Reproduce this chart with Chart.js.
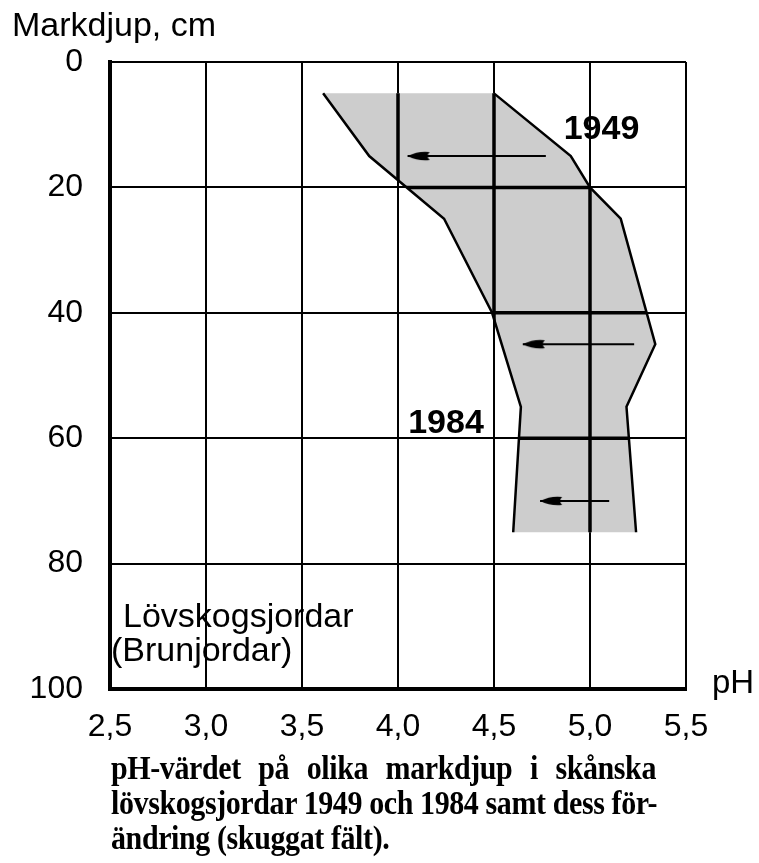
<!DOCTYPE html>
<html>
<head>
<meta charset="utf-8">
<script src="https://cdn.jsdelivr.net/npm/chart.js@4.4.0/dist/chart.umd.min.js"></script>
<style>
  html, body { margin: 0; padding: 0; background: #fff; }
  #wrap { position: relative; width: 759px; height: 863px; overflow: hidden; }
  #caption { position: absolute; left: 111px; top: 750px; width: 545px; font: bold 30px 'Liberation Serif', 'Times New Roman', serif; letter-spacing: -0.4px; line-height: 31px; color: #000; transform: scale(1, 1.12); transform-origin: 0 0; }
  #caption div { white-space: nowrap; }
  #caption .j { text-align: justify; text-align-last: justify; }
</style>
</head>
<body>
<div id="wrap">
  <canvas id="chart" width="759" height="863"></canvas>
  <div id="caption">
    <div class="j">pH-värdet på olika markdjup i skånska</div>
    <div class="j">lövskogsjordar 1949 och 1984 samt dess för-</div>
    <div>ändring (skuggat fält).</div>
  </div>
</div>
<script>
// pH profile 1949 (right edge of the shaded field)
const depth1949 = [5, 15, 20, 25, 45, 55, 75];
const ph1949 = [4.5, 4.9, 5.0, 5.16, 5.34, 5.19, 5.24];

// pH profile 1984 (left edge)
const depth1984 = [5, 15, 25, 40, 55, 75];
const ph1984 = [3.61, 3.85, 4.24, 4.49, 4.64, 4.6];

// change arrows
const arrowDepth = [15, 45, 70];
const arrowFrom = [4.77, 5.23, 5.1];
const arrowTo = [4.05, 4.65, 4.74];

const phTicks = [2.5, 3.0, 3.5, 4.0, 4.5, 5.0, 5.5];
const depthTicks = [0, 20, 40, 60, 80, 100];

const yearLabels = ['1949', '1984'];
const yearLabelPh = [5.06, 4.25];
const yearLabelDepth = [10.8, 57.6];

const SANS = "'Liberation Sans', Arial, Helvetica, sans-serif";

function makeHead() {
    const c = document.createElement('canvas');
    c.width = 50;
    c.height = 12;
    const g = c.getContext('2d');
    g.fillStyle = '#000';
    g.beginPath();
    g.moveTo(25, 6);
    g.quadraticCurveTo(36, 0.5, 47, 2);
    g.quadraticCurveTo(43, 6, 47, 10);
    g.quadraticCurveTo(36, 11.5, 25, 6);
    g.closePath();
    g.fill();
    return c;
}

const toPoints = (xs, ys) => xs.map((v, i) => ({ x: v, y: ys[i] }));

const edge1984 = toPoints(ph1984, depth1984);
const edge1949 = toPoints(ph1949, depth1949);
const field = edge1984.concat(edge1949.slice().reverse());

const head = makeHead();
const arrowSets = arrowDepth.map((d, i) => ({
    data: [{ x: arrowTo[i], y: d }, { x: arrowFrom[i], y: d }],
    borderColor: '#000',
    borderWidth: 2,
    pointStyle: [head, 'circle'],
    pointRadius: [4, 0],
    fill: false,
    order: 1
}));

// grid lines look heavier where they cross the shaded field
const heavyGrid = {
    id: 'heavyGrid',
    afterDraw(chart) {
        const { ctx, chartArea: a, scales: { x, y } } = chart;
        ctx.save();
        ctx.beginPath();
        field.forEach((p, i) => {
            const px = x.getPixelForValue(p.x), py = y.getPixelForValue(p.y);
            if (i === 0) ctx.moveTo(px, py); else ctx.lineTo(px, py);
        });
        ctx.closePath();
        ctx.clip();
        ctx.strokeStyle = '#000';
        ctx.lineWidth = 3.5;
        ctx.beginPath();
        phTicks.forEach(v => {
            const px = x.getPixelForValue(v);
            ctx.moveTo(px, a.top);
            ctx.lineTo(px, a.bottom);
        });
        depthTicks.forEach(v => {
            const py = y.getPixelForValue(v);
            ctx.moveTo(a.left, py);
            ctx.lineTo(a.right, py);
        });
        ctx.stroke();
        ctx.restore();
    }
};

const textPlugin = {
    id: 'texts',
    afterDraw(chart) {
        const { ctx, chartArea: a, scales: { x, y } } = chart;
        ctx.save();
        ctx.fillStyle = '#000';
        ctx.textAlign = 'left';
        ctx.textBaseline = 'alphabetic';
        ctx.font = '34px ' + SANS;
        ctx.fillText('Markdjup, cm', 12, 36);
        ctx.font = '33px ' + SANS;
        ctx.fillText('pH', a.right + 26, a.bottom + 4);
        ctx.font = '34px ' + SANS;
        ctx.fillText('Lövskogsjordar', a.left + 13, 627);
        ctx.fillText('(Brunjordar)', a.left + 1, 661);
        ctx.font = 'bold 34px ' + SANS;
        ctx.textAlign = 'center';
        ctx.textBaseline = 'middle';
        yearLabels.forEach((t, i) => {
            ctx.fillText(t, x.getPixelForValue(yearLabelPh[i]), y.getPixelForValue(yearLabelDepth[i]));
        });
        ctx.restore();
    }
};

new Chart(document.getElementById('chart').getContext('2d'), {
    type: 'line',
    data: {
        datasets: [
            {
                label: '1949',
                data: edge1949,
                borderColor: '#000',
                borderWidth: 2.5,
                pointRadius: 0,
                fill: false,
                order: 2
            },
            {
                label: '1984',
                data: edge1984,
                borderColor: '#000',
                borderWidth: 2.5,
                pointRadius: 0,
                fill: false,
                order: 2
            },
            ...arrowSets,
            {
                label: 'field',
                data: field,
                borderColor: 'rgba(0,0,0,0)',
                borderWidth: 0,
                backgroundColor: '#cdcdcd',
                pointRadius: 0,
                fill: 'shape',
                order: 10
            }
        ]
    },
    options: {
        responsive: false,
        animation: false,
        layout: { padding: { left: 0, top: 62, right: 73, bottom: 114 } },
        plugins: { legend: { display: false }, tooltip: { enabled: false } },
        scales: {
            x: {
                type: 'linear',
                min: 2.5,
                max: 5.5,
                z: 1,
                afterBuildTicks: s => { s.ticks = phTicks.map(v => ({ value: v })); },
                afterFit: s => { s.height = 60; },
                grid: { color: '#000', lineWidth: 2, drawTicks: false },
                border: { color: '#000', width: 4 },
                ticks: {
                    color: '#000',
                    padding: 19,
                    maxRotation: 0,
                    autoSkip: false,
                    font: { family: SANS, size: 32 },
                    callback: v => v.toFixed(1).replace('.', ',')
                }
            },
            y: {
                type: 'linear',
                reverse: true,
                min: 0,
                max: 100,
                z: 1,
                afterBuildTicks: s => { s.ticks = depthTicks.map(v => ({ value: v })); },
                afterFit: s => { s.width = 110; },
                grid: { color: '#000', lineWidth: 2, drawTicks: false },
                border: { color: '#000', width: 4 },
                ticks: {
                    color: '#000',
                    padding: 27,
                    font: { family: SANS, size: 32 },
                    callback: v => String(v)
                }
            }
        }
    },
    plugins: [heavyGrid, textPlugin]
});
</script>
</body>
</html>
